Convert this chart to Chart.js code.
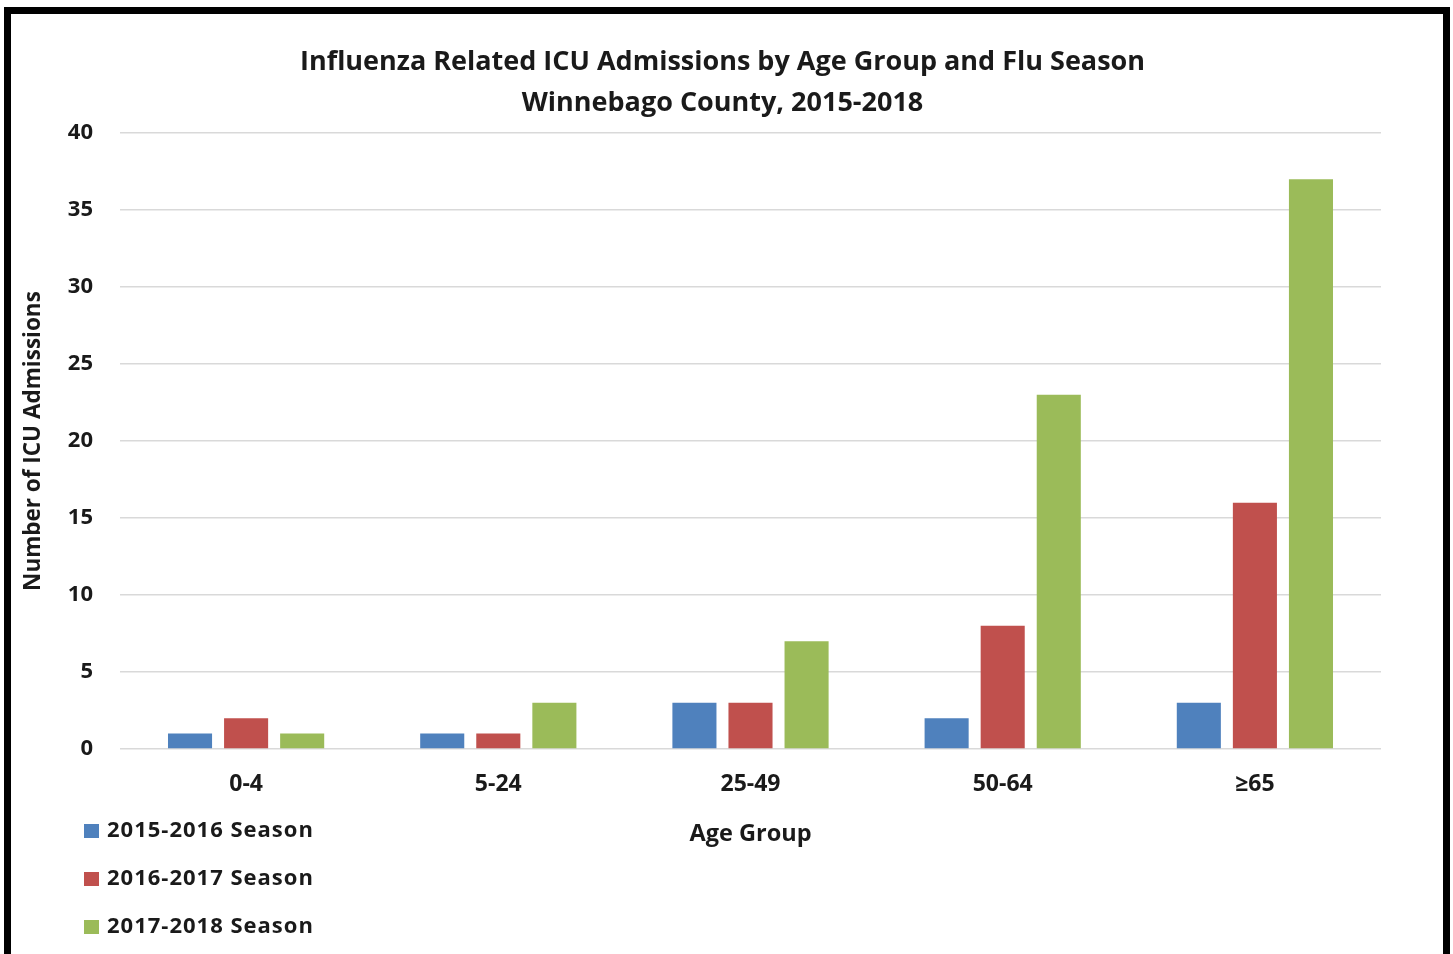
<!DOCTYPE html>
<html>
<head>
<meta charset="utf-8">
<script src="https://cdn.jsdelivr.net/npm/chart.js@4"></script>
<style>
  html, body { margin: 0; padding: 0; background: #fff; }
  #wrap { position: relative; width: 1453px; height: 954px; overflow: hidden; }
  #frame {
    position: absolute; left: 4px; top: 7px; width: 1446px; height: 1000px;
    border: 7px solid #000; box-sizing: border-box; pointer-events: none;
  }
</style>
</head>
<body>
<div id="wrap">
  <canvas id="icuChart"></canvas>
  <div id="frame"></div>
</div>
<script>
const ageGroups = ["0-4", "5-24", "25-49", "50-64", "≥65"];
const season1516 = [1, 1, 3, 2, 3];
const season1617 = [2, 1, 3, 8, 16];
const season1718 = [1, 3, 7, 23, 37];
const yTicks = [0, 5, 10, 15, 20, 25, 30, 35, 40];

const textColor = "#1a1a1a";
const fontFamily = '"Open Sans", sans-serif';

// legend drawn stacked in the lower left corner, like the original
const stackedLegend = {
    id: "stackedLegend",
    afterDraw(chart) {
        const ctx = chart.ctx;
        ctx.save();
        ctx.font = "bold 22px " + fontFamily;
        ctx.letterSpacing = "1px";
        ctx.textBaseline = "middle";
        chart.data.datasets.forEach((ds, i) => {
            const y = 831 + i * 48;
            ctx.fillStyle = ds.backgroundColor;
            ctx.fillRect(84, y - 7, 15, 14);
            ctx.fillStyle = textColor;
            ctx.fillText(ds.label, 107, y);
        });
        ctx.restore();
    }
};

new Chart(
    document.getElementById("icuChart"),
    {
        type: "bar",
        data: {
            labels: ageGroups,
            datasets: [
                { label: "2015-2016 Season", data: season1516, backgroundColor: "#4f81bd" },
                { label: "2016-2017 Season", data: season1617, backgroundColor: "#c0504d" },
                { label: "2017-2018 Season", data: season1718, backgroundColor: "#9bbb59" }
            ]
        },
        options: {
            responsive: true,
            maintainAspectRatio: false,
            animation: false,
            datasets: {
                bar: { categoryPercentage: 0.667, barPercentage: 0.786 }
            },
            // near-symmetric side padding keeps the title centred on the page
            layout: { padding: { left: 64, right: 72, top: 0, bottom: 0 } },
            plugins: {
                legend: { display: false },
                tooltip: { enabled: false },
                title: {
                    display: true,
                    text: [
                        "Influenza Related ICU Admissions by Age Group and Flu Season",
                        "Winnebago County, 2015-2018"
                    ],
                    color: textColor,
                    font: { family: fontFamily, size: 27, weight: "bold", lineHeight: 1.52 },
                    padding: { top: 41.5, bottom: 9.5 }
                }
            },
            scales: {
                x: {
                    grid: { display: false, drawTicks: false },
                    border: { display: false },
                    ticks: {
                        color: textColor,
                        padding: 22,
                        font: { family: fontFamily, size: 23, weight: "bold" }
                    },
                    title: {
                        display: true,
                        text: "Age Group",
                        color: textColor,
                        font: { family: fontFamily, size: 23.5, weight: "bold", lineHeight: 1.2 },
                        padding: { top: 0, bottom: 106 }
                    },
                    afterFit(scale) { scale.height = 205; }
                },
                y: {
                    min: 0,
                    max: 40,
                    afterBuildTicks(scale) { scale.ticks = yTicks.map(v => ({ value: v })); },
                    grid: { color: "#d9d9d9", lineWidth: 1.5, drawTicks: false },
                    border: { display: false },
                    ticks: {
                        color: textColor,
                        padding: 27,
                        font: { family: fontFamily, size: 22, weight: "bold" }
                    },
                    title: {
                        display: true,
                        text: "Number of ICU Admissions",
                        color: textColor,
                        font: { family: fontFamily, size: 22.5, weight: "bold", lineHeight: 1.2 },
                        padding: { top: -43.5, bottom: 0 }
                    },
                    afterFit(scale) { scale.width = 56; }
                }
            }
        },
        plugins: [stackedLegend]
    }
);
</script>
</body>
</html>
